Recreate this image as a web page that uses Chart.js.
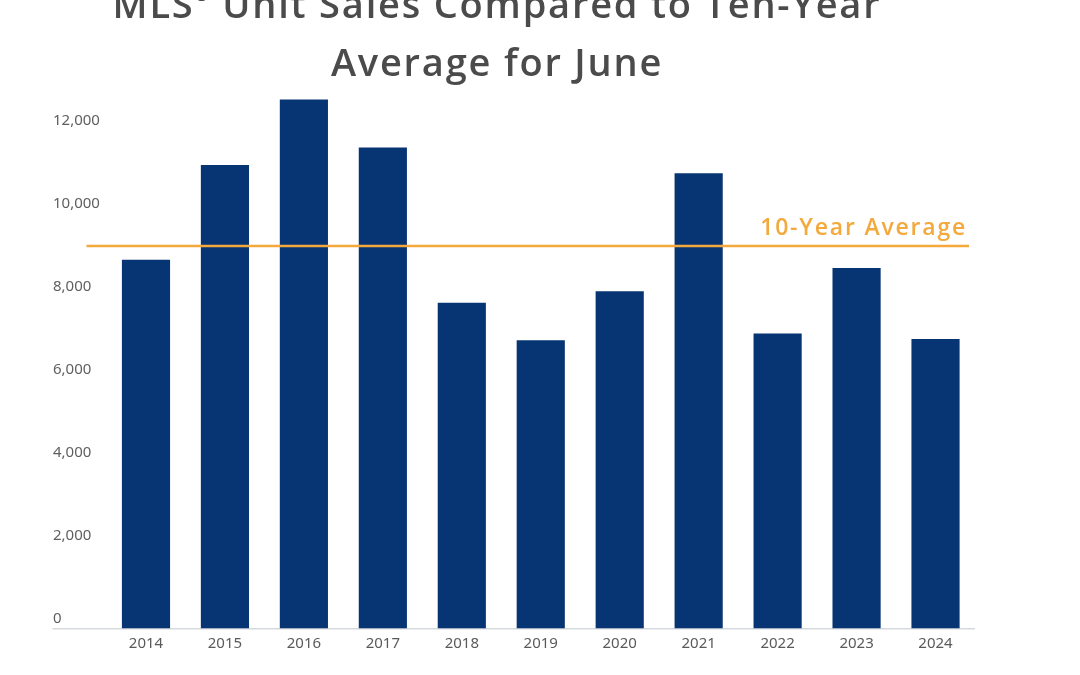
<!DOCTYPE html>
<html>
<head>
<meta charset="utf-8">
<script src="https://cdn.jsdelivr.net/npm/chart.js@4"></script>
<style>
  html, body { margin:0; padding:0; background:#fff; overflow:hidden; }
  #wrap { position:relative; width:1080px; height:675px; }
  #title {
    position:absolute; left:0; top:-26px; width:994px; margin:0; z-index:2;
    text-align:center; font-family:"Open Sans", sans-serif; font-weight:600;
    font-size:38px; line-height:58px; letter-spacing:1.8px; color:#4b4b4b;
  }
</style>
</head>
<body>
<div id="wrap">
  <h1 id="title">MLS<sup style="font-size:0.45em;vertical-align:1em;line-height:0">®</sup> Unit Sales Compared to Ten-Year<br>Average for June</h1>
  <canvas id="chart" width="1080" height="675"></canvas>
</div>
<script>
const years = ['2014','2015','2016','2017','2018','2019','2020','2021','2022','2023','2024'];
const sales = [8900, 11180, 12760, 11600, 7860, 6960, 8140, 10980, 7120, 8700, 6990];
const tenYearAvg = 9230;
const avgLabel = '10-Year Average';
const yMax = 14000;
const yTopLabel = 12000;
const yStep = 2000;

// horizontal average line + label
const avgLine = {
  id:'avgLine',
  afterDatasetsDraw(chart){
    const {ctx, chartArea, scales} = chart;
    const y = scales.y.getPixelForValue(tenYearAvg);
    ctx.save();
    ctx.strokeStyle = '#f3a93c';
    ctx.lineWidth = 2.5;
    ctx.beginPath();
    ctx.moveTo(chartArea.left - 20, y);
    ctx.lineTo(chartArea.right - 6, y);
    ctx.stroke();
    ctx.fillStyle = '#f3a93c';
    ctx.font = '600 23px "Open Sans", sans-serif';
    ctx.letterSpacing = '1.8px';
    ctx.textAlign = 'right';
    ctx.textBaseline = 'alphabetic';
    ctx.fillText(avgLabel, chartArea.right - 8, y - 11);
    ctx.restore();
  }
};

new Chart(document.getElementById('chart'), {
  type:'bar',
  data:{
    labels: years,
    datasets:[{
      label:'MLS Unit Sales',
      data: sales,
      backgroundColor:'#073472',
      barPercentage:0.61,
      categoryPercentage:1
    }]
  },
  options:{
    responsive:false,
    animation:false,
    layout:{ padding:{ top:48, left:53, right:105, bottom:16 } },
    plugins:{ legend:{ display:false }, tooltip:{ enabled:false } },
    scales:{
      x:{
        grid:{ display:false, drawTicks:false },
        border:{ display:false },
        ticks:{ color:'#5a5a5a', padding:6, font:{ family:'"Noto Sans", sans-serif', size:15 } }
      },
      y:{
        min:0, max:yMax,
        afterFit(scale){ scale.width = 53.5; },
        afterBuildTicks(scale){ scale.ticks = scale.ticks.filter(t => t.value <= yTopLabel); },
        border:{ display:false },
        grid:{
          color: c => (c.tick && c.tick.value === 0) ? '#d5d9de' : 'transparent',
          lineWidth:1.5,
          drawTicks:true,
          tickLength:54
        },
        ticks:{
          stepSize:yStep,
          crossAlign:'far',
          labelOffset:-10,
          color:'#5f5f5f',
          font:{ family:'"Noto Sans", sans-serif', size:15 },
          callback: v => v.toLocaleString('en-US')
        }
      }
    }
  },
  plugins:[avgLine]
});
</script>
</body>
</html>
